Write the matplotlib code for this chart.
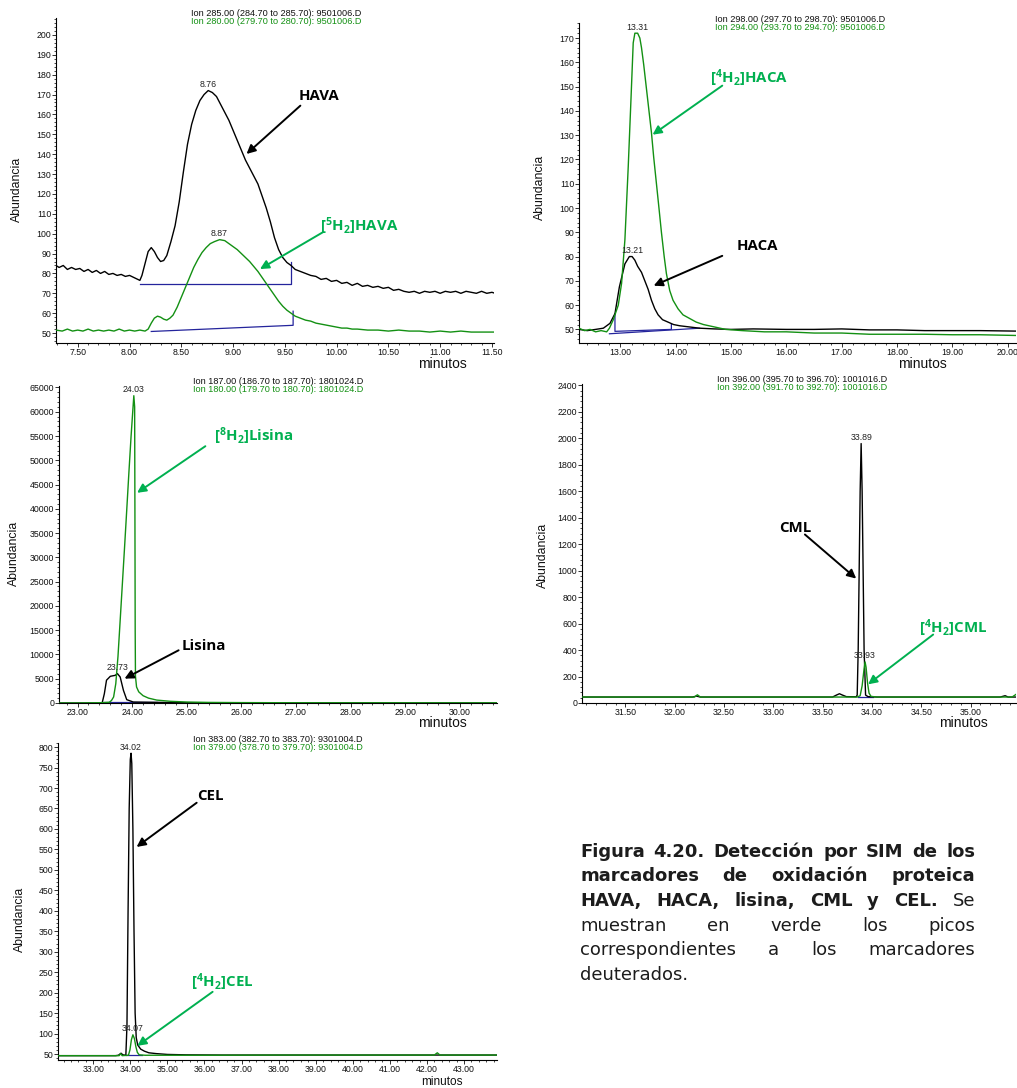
import matplotlib
matplotlib.use("Agg")
import matplotlib.pyplot as plt
from matplotlib.ticker import MultipleLocator, FormatStrFormatter

W, H = 1017, 1088

plt.rcParams["mathtext.fontset"] = "custom"
plt.rcParams["mathtext.rm"] = "Open Sans:bold"
plt.rcParams["mathtext.bf"] = "Open Sans:bold"
plt.rcParams["mathtext.default"] = "bf"

TRACE_BLACK = "#000000"
TRACE_GREEN = "#139013"
LABEL_GREEN = "#00b050"
BASE_BLUE = "#24249c"
SMALL_FONT = ["Liberation Sans", "DejaVu Sans"]
LABEL_FONT = ["Open Sans", "DejaVu Sans"]

# ---------------- HAVA (ion 285) / [5H2]HAVA (ion 280) ----------------
hava_t = [7.29, 7.32, 7.36, 7.40, 7.44, 7.48, 7.52, 7.56, 7.60, 7.64, 7.68, 7.72, 7.76,
          7.80, 7.84, 7.88, 7.92, 7.96, 8.00, 8.04, 8.08, 8.10, 8.12, 8.15, 8.18, 8.21,
          8.24, 8.27, 8.30, 8.33, 8.36, 8.40, 8.44, 8.48, 8.52, 8.56, 8.60, 8.64, 8.68,
          8.72, 8.76, 8.80, 8.84, 8.88, 8.92, 8.96, 9.00, 9.04, 9.08, 9.12, 9.16, 9.20,
          9.24, 9.28, 9.32, 9.36, 9.40, 9.44, 9.48, 9.52, 9.56, 9.60, 9.65, 9.70, 9.75,
          9.80, 9.85, 9.90, 9.95, 10.00, 10.05, 10.10, 10.15, 10.20, 10.25, 10.30, 10.35,
          10.40, 10.45, 10.50, 10.55, 10.60, 10.65, 10.70, 10.75, 10.80, 10.85, 10.90,
          10.95, 11.00, 11.05, 11.10, 11.15, 11.20, 11.25, 11.30, 11.35, 11.40, 11.45,
          11.50, 11.53]
hava_y = [84, 83, 84, 82, 83, 82, 82.5, 81, 82, 80.5, 81.5, 80, 81,
          79.5, 80, 79, 79.5, 78.5, 79, 78, 77, 76.5, 79, 85, 91, 93,
          91, 88, 86, 86.5, 89, 96, 104, 116, 131, 145, 155, 162, 167,
          170, 172, 171, 169, 165, 161, 157, 152, 147, 142, 137, 133, 129,
          125, 119, 113, 106, 98, 92, 88, 85.5, 84, 82, 81, 80, 79,
          78.5, 77, 77.5, 76, 76.5, 75, 75.5, 74, 75, 73.5, 74, 73,
          73.5, 72.5, 73, 71.5, 72, 71, 70.5, 71, 70, 71, 70.5,
          71, 70, 71, 70.5, 71, 70, 71, 70.5, 70, 71, 70,
          70.5, 70]
hava_d_t = [7.29, 7.35, 7.40, 7.45, 7.50, 7.55, 7.60, 7.65, 7.70, 7.75, 7.80, 7.85, 7.90,
            7.95, 8.00, 8.05, 8.10, 8.15, 8.18, 8.21, 8.24, 8.27, 8.30, 8.33, 8.36, 8.39,
            8.42, 8.46, 8.50, 8.54, 8.58, 8.62, 8.66, 8.70, 8.74, 8.78, 8.82, 8.87, 8.92,
            8.96, 9.00, 9.04, 9.08, 9.12, 9.16, 9.20, 9.24, 9.28, 9.32, 9.36, 9.40, 9.44,
            9.48, 9.52, 9.56, 9.60, 9.65, 9.70, 9.75, 9.80, 9.85, 9.90, 9.95, 10.00, 10.05,
            10.10, 10.15, 10.20, 10.30, 10.40, 10.50, 10.60, 10.70, 10.80, 10.90, 11.00,
            11.10, 11.20, 11.30, 11.40, 11.53]
hava_d_y = [51.5, 51, 52, 51, 51.5, 51, 52, 51, 51.5, 51, 51.5, 51, 52,
            51, 51.5, 51, 51.5, 51, 52, 55, 57.5, 58.5, 58, 57, 56.5, 57.5,
            59, 63, 68, 73, 78, 83, 87, 90.5, 93, 95, 96, 97, 96.5,
            95, 93.5, 92, 90, 88, 86, 83.5, 81, 78, 75, 72, 69, 66,
            63.5, 61.5, 60, 58.5, 57.5, 56.5, 56, 55, 54.5, 54, 53.5, 53, 52.5,
            52.5, 52, 52, 51.5, 51.5, 51, 51.5, 51, 51, 50.5, 51,
            50.5, 51, 50.5, 50.5, 50.5]
hava_peak = (8.76, 172)
hava_d_peak = (8.87, 97)
hava_base_t = [8.10, 9.56, 9.56]
hava_base_y = [74.8, 74.8, 85.7]
hava_d_base_t = [8.21, 9.58, 9.58]
hava_d_base_y = [50.8, 53.9, 61]

# ---------------- HACA (ion 298) / [4H2]HACA (ion 294) ----------------
haca_t = [12.25, 12.40, 12.55, 12.69, 12.81, 12.90, 12.98, 13.08, 13.16, 13.21, 13.26,
          13.31, 13.38, 13.44, 13.50, 13.56, 13.62, 13.68, 13.76, 13.86, 13.96, 14.07,
          14.25, 14.43, 14.70, 15.00, 15.40, 16.00, 16.50, 17.00, 17.50, 18.00, 18.50,
          19.00, 19.50, 20.15]
haca_y = [50, 49.5, 50, 50.5, 52.5, 56.5, 67.5, 77, 80, 80, 78.5,
          76, 73.5, 70, 66.5, 62, 58.5, 56, 54, 53, 52, 51.5,
          51, 50.5, 50.2, 50, 50.2, 50, 50, 50.2, 49.8, 49.8, 49.5,
          49.5, 49.5, 49.3]
haca_d_t = [12.25, 12.35, 12.45, 12.55, 12.65, 12.75, 12.80, 12.87, 12.93, 12.96, 13.02,
            13.08, 13.14, 13.19, 13.23, 13.26, 13.31, 13.35, 13.38, 13.42, 13.46, 13.51,
            13.56, 13.60, 13.65, 13.70, 13.74, 13.79, 13.83, 13.89, 13.95, 14.04, 14.13,
            14.25, 14.37, 14.50, 14.70, 14.90, 15.20, 15.60, 16.00, 16.50, 17.00, 17.50,
            18.00, 18.50, 19.00, 19.50, 20.15]
haca_d_y = [50.5, 49.5, 50, 49, 49.5, 49, 50.5, 54, 58, 60, 69,
            87, 117, 145, 168, 172, 172, 170, 166, 159, 151, 141,
            131, 121, 110, 99, 90, 80, 73, 66, 62, 58.5, 56,
            54.5, 53, 52, 51, 50, 49.5, 49, 49, 48.5, 48.5, 48,
            48, 48, 47.8, 47.8, 47.5]
haca_peak = (13.21, 80)
haca_d_peak = (13.31, 172)
haca_base_t = [12.90, 12.90, 13.92, 13.92]
haca_base_y = [56.5, 49.2, 50.0, 52.0]
haca_d_base_t = [12.80, 14.43]
haca_d_base_y = [48.2, 50.5]

# ---------------- Lisina (ion 187) / [8H2]Lisina (ion 180) ----------------
lys_t = [22.66, 23.45, 23.49, 23.53, 23.60, 23.69, 23.73, 23.78, 23.84, 23.90, 24.02,
         25.00, 30.68]
lys_y = [0, 0, 1900, 4700, 5500, 5700, 6050, 5360, 2600, 690, 200,
         50, 0]
lys_d_t = [22.66, 23.00, 23.40, 23.58, 23.62, 23.66, 23.70, 23.74, 23.78, 23.82, 23.86,
           23.90, 23.94, 23.98, 24.01, 24.03, 24.045, 24.05, 24.055, 24.06, 24.08, 24.12,
           24.20, 24.30, 24.45, 24.70, 25.00, 25.40, 26.00, 27.00, 28.00, 29.00, 30.00,
           30.68]
lys_d_y = [0, 0, 50, 150, 500, 1240, 4000, 9600, 17000, 24500, 32000,
           39700, 47500, 55000, 60000, 63300, 61000, 40000, 15000, 5500, 3300, 2300,
           1500, 1000, 600, 350, 200, 120, 80, 50, 40, 40, 30,
           30]
lys_peak = (23.73, 6050)
lys_d_peak = (24.03, 63300)
lys_base_t = [23.48, 24.45]
lys_base_y = [200, 200]

# ---------------- CML (ion 396) / [4H2]CML (ion 392) ----------------
cml_t = [31.06, 32.18, 32.22, 32.26, 33.60, 33.64, 33.67, 33.70, 33.74, 33.84, 33.85,
         33.86, 33.87, 33.88, 33.89, 33.90, 33.91, 33.92, 33.935, 33.96, 34.05, 35.30,
         35.35, 35.38, 35.46]
cml_y = [45, 45, 52, 45, 45, 60, 70, 60, 48, 47, 60,
         400, 1000, 1600, 1960, 1600, 1000, 400, 60, 48, 45, 45,
         55, 45, 45]
cml_d_t = [31.06, 32.20, 32.23, 32.26, 33.85, 33.88, 33.90, 33.92, 33.93, 33.94, 33.955,
           33.97, 33.99, 34.05, 35.42, 35.46]
cml_d_y = [45, 45, 62, 45, 45, 55, 130, 260, 310, 270, 150,
           75, 50, 45, 45, 65]
cml_peak = (33.89, 1960)
cml_d_peak = (33.93, 310)
cml_base_t = [33.86, 34.01]
cml_base_y = [45, 45]

# ---------------- CEL (ion 383) / [4H2]CEL (ion 379) ----------------
cel_t = [32.05, 33.60, 33.68, 33.75, 33.80, 33.88, 33.91, 33.94, 33.97, 34.00, 34.02,
         34.04, 34.07, 34.10, 34.13, 34.16, 34.20, 34.28, 34.38, 34.50, 34.70, 35.00,
         35.50, 36.50, 38.00, 40.00, 42.00, 43.90]
cel_y = [46, 46, 47, 52, 48, 47, 120, 400, 650, 770, 785,
         760, 600, 350, 150, 90, 72, 62, 57, 53, 51, 49,
         48, 47.5, 47.5, 47.5, 47.5, 47.5]
cel_d_t = [32.05, 33.70, 33.74, 33.78, 33.95, 33.99, 34.03, 34.07, 34.11, 34.15, 34.19,
           34.24, 34.40, 35.00, 36.00, 38.00, 40.00, 42.20, 42.28, 42.35, 43.90]
cel_d_y = [46, 46, 51, 46, 47, 60, 85, 97, 88, 68, 54,
           48, 47, 47, 47, 47.5, 47.5, 47.5, 53, 47.5, 47.5]
cel_peak = (34.02, 785)
cel_d_peak = (34.07, 97)
cel_base_t = [33.88, 34.32]
cel_base_y = [47, 47]

fig = plt.figure(figsize=(W / 100, H / 100), dpi=100)
fig.patch.set_facecolor("white")


def add_px_axes(left, top, right, bottom):
    return fig.add_axes([left / W, 1 - bottom / H, (right - left) / W, (bottom - top) / H])


def fig_text(x, y, s, **kw):
    return fig.text(x / W, 1 - y / H, s, **kw)


def draw_panel(ax, spec):
    ax.plot(spec["black"][0], spec["black"][1], color=TRACE_BLACK, lw=1.0, zorder=3)
    ax.plot(spec["green"][0], spec["green"][1], color=TRACE_GREEN, lw=1.0, zorder=3)
    for bt, by in spec["bases"]:
        ax.plot(bt, by, color=BASE_BLUE, lw=0.9, zorder=2)
    for (pt, ph) in spec["peaks"]:
        ax.annotate(f"{pt:.2f}", xy=(pt, ph), xytext=(0, 1.2), textcoords="offset points",
                    ha="center", va="bottom", fontsize=6.3, family=SMALL_FONT,
                    color="#222222", zorder=4)
    ax.set_xlim(*spec["xlim"])
    ax.set_ylim(*spec["ylim"])
    ax.xaxis.set_major_locator(MultipleLocator(spec["xmaj"]))
    ax.xaxis.set_minor_locator(MultipleLocator(spec["xmin"]))
    ax.yaxis.set_major_locator(MultipleLocator(spec["ymaj"]))
    ax.yaxis.set_minor_locator(MultipleLocator(spec["ymin"]))
    ax.xaxis.set_major_formatter(FormatStrFormatter("%.2f"))
    ax.yaxis.set_major_formatter(FormatStrFormatter("%d"))
    for s in ("top", "right"):
        ax.spines[s].set_visible(False)
    for s in ("left", "bottom"):
        ax.spines[s].set_linewidth(0.8)
    ax.tick_params(which="major", direction="out", length=3.0, width=0.6, pad=0.5,
                   labelsize=6.3, colors="#111111")
    ax.tick_params(which="minor", direction="out", length=1.6, width=0.5)
    for lab in ax.get_xticklabels() + ax.get_yticklabels():
        lab.set_family(SMALL_FONT)
    ax.set_facecolor("none")
    # arrows and compound names
    for (label, color, txy, start, tip) in spec["notes"]:
        ax.annotate("", xy=tip, xytext=start,
                    arrowprops=dict(arrowstyle="-|>", color=color, lw=1.4,
                                    mutation_scale=13, shrinkA=0, shrinkB=0), zorder=5)
        ax.text(txy[0], txy[1], label, color=color, fontsize=10.8, fontweight="bold",
                family=LABEL_FONT, ha="center", va="center", zorder=5)


panels = [
    dict(box=(56, 18, 494, 343), black=(hava_t, hava_y), green=(hava_d_t, hava_d_y),
         bases=[(hava_base_t, hava_base_y), (hava_d_base_t, hava_d_base_y)],
         peaks=[hava_peak, hava_d_peak], xlim=(7.29, 11.52), ylim=(45, 208.5),
         xmaj=0.5, xmin=0.1, ymaj=10, ymin=2,
         header=(276, 14, "Ion 285.00 (284.70 to 285.70): 9501006.D",
                 "Ion 280.00 (279.70 to 280.70): 9501006.D"),
         ylab=(17, 189), minutos=(442, 368, 10),
         notes=[("HAVA", TRACE_BLACK, (9.83, 169.5), (9.65, 164.4), (9.13, 140.1)),
                (r"[$^{5}$H$_{2}$]HAVA", LABEL_GREEN, (10.22, 104), (9.87, 100.8), (9.26, 82.2))]),
    dict(box=(579, 23, 1016, 343), black=(haca_t, haca_y), green=(haca_d_t, haca_d_y),
         bases=[(haca_base_t, haca_base_y), (haca_d_base_t, haca_d_base_y)],
         peaks=[haca_peak, haca_d_peak], xlim=(12.25, 20.15), ylim=(44.4, 176.2),
         xmaj=1, xmin=0.2, ymaj=10, ymin=2,
         header=(800, 19, "Ion 298.00 (297.70 to 298.70): 9501006.D",
                 "Ion 294.00 (293.70 to 294.70): 9501006.D"),
         ylab=(540, 187), minutos=(922, 368, 10),
         notes=[(r"[$^{4}$H$_{2}$]HACA", LABEL_GREEN, (15.32, 153.3), (14.84, 150.4), (13.58, 130.2)),
                ("HACA", TRACE_BLACK, (15.48, 84.5), (14.84, 80.3), (13.60, 68.0))]),
    dict(box=(59, 386, 497, 703), black=(lys_t, lys_y), green=(lys_d_t, lys_d_y),
         bases=[(lys_base_t, lys_base_y)],
         peaks=[lys_peak, lys_d_peak], xlim=(22.66, 30.68), ylim=(0, 65300),
         xmaj=1, xmin=0.2, ymaj=5000, ymin=1000,
         header=(278, 382, "Ion 187.00 (186.70 to 187.70): 1801024.D",
                 "Ion 180.00 (179.70 to 180.70): 1801024.D"),
         ylab=(14, 553), minutos=(442, 727, 10),
         notes=[(r"[$^{8}$H$_{2}$]Lisina", LABEL_GREEN, (26.23, 54980), (25.34, 52900), (24.09, 43300)),
                ("Lisina", TRACE_BLACK, (25.31, 11700), (24.85, 10860), (23.86, 5020))]),
    dict(box=(582, 384, 1016, 703), black=(cml_t, cml_y), green=(cml_d_t, cml_d_y),
         bases=[(cml_base_t, cml_base_y)],
         peaks=[cml_peak, cml_d_peak], xlim=(31.06, 35.46), ylim=(0, 2410),
         xmaj=0.5, xmin=0.1, ymaj=200, ymin=40,
         header=(802, 379, "Ion 396.00 (395.70 to 396.70): 1001016.D",
                 "Ion 392.00 (391.70 to 392.70): 1001016.D"),
         ylab=(543, 555), minutos=(963, 727, 10),
         notes=[("CML", TRACE_BLACK, (33.22, 1323), (33.32, 1273), (33.84, 940)),
                (r"[$^{4}$H$_{2}$]CML", LABEL_GREEN, (34.82, 567), (34.62, 517), (33.96, 141))]),
    dict(box=(58, 743, 497, 1060), black=(cel_t, cel_y), green=(cel_d_t, cel_d_y),
         bases=[(cel_base_t, cel_base_y)],
         peaks=[cel_peak, cel_d_peak], xlim=(32.05, 43.89), ylim=(35.4, 810),
         xmaj=1, xmin=0.2, ymaj=50, ymin=10,
         header=(278, 739, "Ion 383.00 (382.70 to 383.70): 9301004.D",
                 "Ion 379.00 (378.70 to 379.70): 9301004.D"),
         ylab=(20, 919), minutos=(442, 1085, 8.5),
         notes=[("CEL", TRACE_BLACK, (36.17, 680), (35.79, 664), (34.17, 556)),
                (r"[$^{4}$H$_{2}$]CEL", LABEL_GREEN, (36.47, 226.6), (36.22, 202), (34.19, 70))]),
]

for spec in panels:
    ax = add_px_axes(*spec["box"])
    draw_panel(ax, spec)
    hx, hy, h1, h2 = spec["header"]
    fig_text(hx, hy, h1, ha="center", va="center", fontsize=6.6, family=SMALL_FONT, color="#111111")
    fig_text(hx, hy + 8, h2, ha="center", va="center", fontsize=6.6, family=SMALL_FONT, color=TRACE_GREEN)
    fig_text(spec["ylab"][0], spec["ylab"][1], "Abundancia", rotation=90, ha="center", va="center",
             fontsize=8.8, family=SMALL_FONT, color="#111111")
    mx, my, msize = spec["minutos"]
    fig_text(mx, my, "minutos", ha="center", va="baseline",
             fontsize=msize, family=SMALL_FONT, color="#111111")

# ---------------- caption (justified) ----------------
caption_lines = [
    [("Figura", "bold"), ("4.20.", "bold"), ("Detección", "bold"), ("por", "bold"),
     ("SIM", "bold"), ("de", "bold"), ("los", "bold")],
    [("marcadores", "bold"), ("de", "bold"), ("oxidación", "bold"), ("proteica", "bold")],
    [("HAVA,", "bold"), ("HACA,", "bold"), ("lisina,", "bold"), ("CML", "bold"),
     ("y", "bold"), ("CEL.", "bold"), ("Se", "normal")],
    [("muestran", "normal"), ("en", "normal"), ("verde", "normal"), ("los", "normal"),
     ("picos", "normal")],
    [("correspondientes", "normal"), ("a", "normal"), ("los", "normal"),
     ("marcadores", "normal")],
    [("deuterados.", "normal")],
]
cap_left, cap_right = 580, 975
cap_baselines = [857, 881, 906, 931, 955, 980]
CAP_FONT = ["DejaVu Sans"]
CAP_SIZE = 13

renderer = fig.canvas.get_renderer()
for li, (words, yb) in enumerate(zip(caption_lines, cap_baselines)):
    items = []
    for w, wt in words:
        t = fig_text(0, yb, w, fontsize=CAP_SIZE, fontweight=wt, family=CAP_FONT,
                     color="#1c1c1c", ha="left", va="baseline")
        items.append(t)
    widths = [t.get_window_extent(renderer).width for t in items]
    last = li == len(caption_lines) - 1
    if last or len(items) == 1:
        gap = CAP_SIZE * 0.35 * 100 / 72
    else:
        gap = (cap_right - cap_left - sum(widths)) / (len(items) - 1)
    x = cap_left
    for t, wdt in zip(items, widths):
        t.set_x(x / W)
        x += wdt + gap

fig.savefig("out.png", dpi=100, facecolor="white")
